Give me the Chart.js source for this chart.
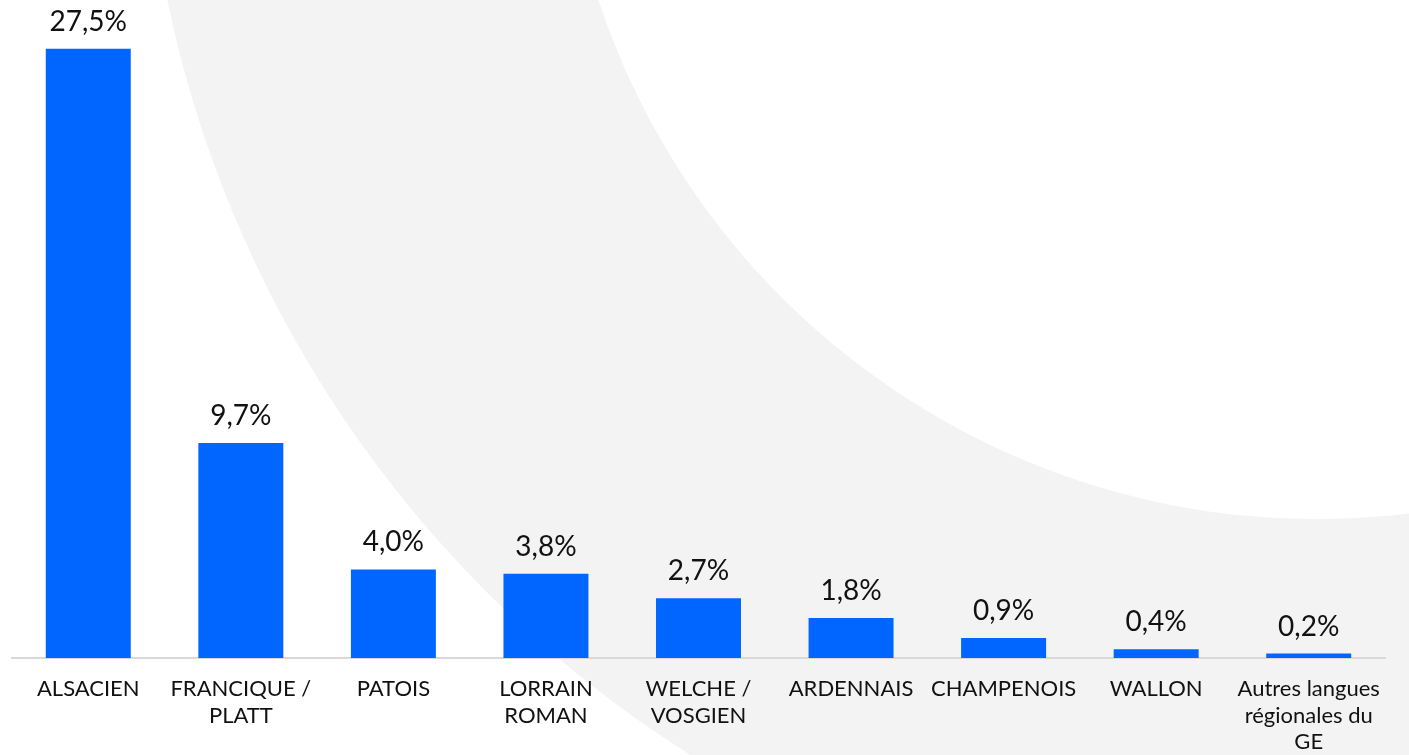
<!DOCTYPE html>
<html>
<head>
<meta charset="utf-8">
<script src="https://cdn.jsdelivr.net/npm/chart.js@4.4.1/dist/chart.umd.min.js"></script>
<style>
  html, body { margin: 0; padding: 0; background: #ffffff; }
  #wrap { width: 1409px; height: 755px; position: relative; }
</style>
</head>
<body>
<div id="wrap"><canvas id="languesChart"></canvas></div>
<script>
const categories = [
    'ALSACIEN',
    ['FRANCIQUE /', 'PLATT'],
    'PATOIS',
    ['LORRAIN', 'ROMAN'],
    ['WELCHE /', 'VOSGIEN'],
    'ARDENNAIS',
    'CHAMPENOIS',
    'WALLON',
    ['Autres langues', 'régionales du', 'GE']
];
const shares = [27.5, 9.7, 4.0, 3.8, 2.7, 1.8, 0.9, 0.4, 0.2];

const barColor = '#0066FF';
const textColor = '#111111';
const fontFamily = 'Lato, "Open Sans", sans-serif';

const formatShare = (v) => v.toFixed(1).replace('.', ',') + '%';

// light grey ring drawn behind the chart (decoration)
const backgroundRing = {
    id: 'backgroundRing',
    beforeDraw(chart) {
        const { ctx, width, height } = chart;
        const cx = width * 0.9347, cy = -height * 0.315;
        ctx.save();
        ctx.fillStyle = '#ffffff';
        ctx.fillRect(0, 0, width, height);
        ctx.fillStyle = '#f3f3f3';
        ctx.beginPath();
        ctx.arc(cx, cy, 1174, 0, Math.PI * 2, false);
        ctx.arc(cx, cy, 757, 0, Math.PI * 2, true);
        ctx.fill();
        ctx.restore();
    }
};

// value labels above each bar
const valueLabels = {
    id: 'valueLabels',
    afterDatasetsDraw(chart) {
        const { ctx } = chart;
        const meta = chart.getDatasetMeta(0);
        ctx.save();
        ctx.font = '28px ' + fontFamily;
        ctx.fillStyle = textColor;
        ctx.textAlign = 'center';
        ctx.textBaseline = 'alphabetic';
        meta.data.forEach((bar, i) => {
            ctx.fillText(formatShare(shares[i]), bar.x, bar.y - 18);
        });
        ctx.restore();
    }
};

new Chart(document.getElementById('languesChart'), {
    type: 'bar',
    data: {
        labels: categories,
        datasets: [{
            data: shares,
            backgroundColor: barColor,
            borderWidth: 0,
            barPercentage: 0.557,
            categoryPercentage: 1.0
        }]
    },
    options: {
        responsive: true,
        maintainAspectRatio: false,
        animation: false,
        layout: { padding: { left: 12, right: 24, top: 0, bottom: 0 } },
        plugins: {
            legend: { display: false },
            tooltip: { enabled: false }
        },
        scales: {
            x: {
                grid: { display: false, drawTicks: false },
                border: { display: true, color: '#d9d9d9', width: 2 },
                ticks: {
                    autoSkip: false,
                    maxRotation: 0,
                    minRotation: 0,
                    padding: 18,
                    color: textColor,
                    font: { family: fontFamily, size: 22, lineHeight: 1.2 }
                },
                afterFit(scale) { scale.height = 97; }
            },
            y: {
                display: false,
                min: 0,
                max: 29.7
            }
        }
    },
    plugins: [backgroundRing, valueLabels]
});
</script>
</body>
</html>
